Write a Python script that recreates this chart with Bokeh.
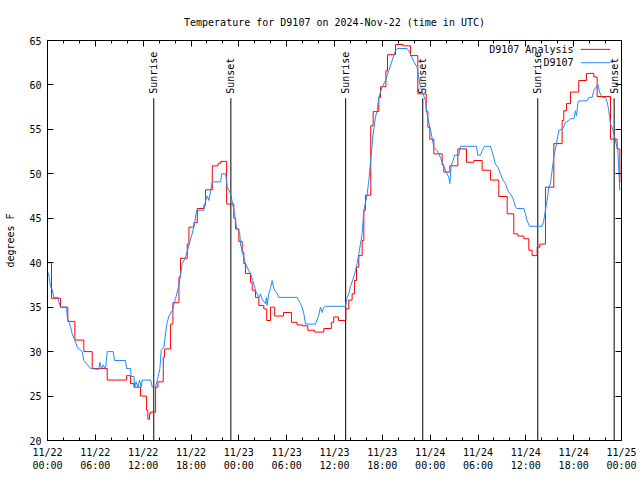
from bokeh.plotting import figure
from bokeh.models import Range1d, FixedTicker, LinearAxis, Label, Arrow, ColumnDataSource, CustomJSTickFormatter
from bokeh.core.properties import value
from bokeh.embed import file_html
from bokeh.resources import INLINE

# ---- data (hours since 2024-11-22 00:00 UTC, degrees F) ----
analysis_hours = [0.0, 0.5, 1.63, 2.55, 3.43, 4.56, 5.61, 7.49, 9.92, 10.42, 10.84, 11.67, 12.43, 12.59,
                  12.8, 12.93, 13.56, 13.85, 14.52, 14.69, 15.44, 15.73, 16.49, 16.69, 17.53, 17.74,
                  18.37, 18.79, 19.62, 19.83, 20.67, 21.4, 21.72, 22.47, 23.37, 23.6, 24.0, 24.42,
                  24.62, 24.83, 25.46, 25.67, 26.09, 26.51, 27.13, 27.5, 27.97, 28.5, 29.6, 30.6,
                  31.3, 32.0, 32.65, 33.5, 34.66, 35.6, 35.9, 36.5, 37.42, 37.79, 38.21, 38.5,
                  38.76, 39.05, 39.47, 39.68, 39.88, 40.55, 40.85, 41.56, 41.77, 42.45, 42.65,
                  43.65, 44.6, 45.53, 46.45, 47.5, 47.71, 47.96, 48.46, 49.5, 49.71, 50.47, 51.47,
                  52.56, 53.48, 54.52, 55.57, 56.61, 57.66, 58.49, 59.0, 59.75, 60.37, 60.79, 61.42,
                  61.75, 62.46, 63.51, 64.55, 64.76, 65.1, 65.6, 66.64, 67.6, 68.53, 68.94, 70.62,
                  71.45, 71.8]
analysis_temp = [40.0, 36.0, 35.0, 33.4, 31.3, 30.0, 28.1, 26.8, 27.3, 26.4, 26.0, 25.0, 23.4, 22.4,
                 23.0, 23.2, 26.0, 26.6, 29.4, 30.3, 33.1, 35.5, 38.4, 40.5, 42.1, 44.0,
                 44.5, 46.1, 46.5, 48.2, 50.9, 51.2, 51.4, 46.6, 45.0, 43.8, 42.4, 41.2,
                 39.9, 38.8, 37.8, 36.9, 36.1, 35.2, 34.8, 33.5, 35.0, 34.0, 34.4, 33.3,
                 33.0, 32.9, 32.4, 32.2, 32.6, 33.3, 33.9, 33.5, 34.8, 35.8, 36.5, 38.0,
                 39.5, 40.8, 42.5, 45.9, 47.6, 55.4, 57.0, 58.6, 59.8, 61.6, 63.4,
                 64.55, 64.4, 63.3, 59.0, 57.0, 55.25, 53.9, 52.25, 51.0, 50.2, 50.9, 52.8,
                 51.3, 51.5, 50.4, 49.3, 47.45, 45.5, 43.25, 43.0, 42.7, 41.4, 40.8, 41.75,
                 42.1, 48.5, 53.4, 56.0, 57.1, 57.9, 59.2, 60.5, 61.3, 60.9, 58.7, 53.9,
                 52.8, 49.0]

obs_hours = [0.0, 0.17, 0.38, 0.59, 0.79, 1.3, 1.42, 1.63, 2.38, 2.47, 2.89, 3.1, 3.51, 3.72, 4.35,
             4.56, 5.4, 6.44, 6.57, 6.78, 6.99, 7.28, 7.49, 8.24, 8.41, 9.79, 9.92, 10.42, 10.5,
             10.84, 10.92, 11.13, 11.34, 11.55, 11.76, 11.88, 12.93, 13.14, 13.56, 13.77, 14.1,
             14.27, 14.6, 14.94, 15.23, 15.65, 16.07, 16.49, 16.9, 17.32, 17.74, 18.16, 18.45,
             18.7, 19.62, 19.83, 20.04, 20.25, 20.46, 20.67, 21.72, 21.84, 22.34, 22.55, 22.97,
             23.39, 23.7, 24.12, 24.2, 24.62, 24.83, 25.25, 25.46, 25.88, 26.09, 26.51, 26.72,
             26.92, 27.34, 27.47, 27.55, 27.76, 27.97, 28.18, 28.39, 28.81, 29.01, 31.31, 31.73,
             31.94, 32.15, 32.36, 33.61, 34.03, 34.24, 34.45, 34.66, 34.87, 37.38, 37.58, 37.79,
             38.0, 38.42, 38.63, 38.84, 39.05, 39.47, 39.68, 40.09, 40.3, 40.64, 40.85, 41.14,
             41.35, 41.56, 41.97, 42.39, 42.81, 43.23, 43.65, 43.94, 45.11, 45.53, 45.95, 46.37,
             46.7, 47.0, 47.41, 47.62, 47.96, 48.25, 48.46, 48.88, 49.3, 49.71, 50.13, 50.34,
             50.47, 50.63, 50.88, 51.05, 51.59, 51.8, 53.81, 53.98, 54.31, 54.52, 54.81, 55.57,
             55.9, 56.19, 56.49, 56.82, 57.16, 57.45, 57.74, 58.07, 58.41, 58.7, 58.91, 59.75,
             59.95, 60.16, 60.46, 62.05, 62.25, 62.46, 62.67, 62.88, 63.09, 63.3, 63.51, 63.84,
             64.14, 64.55, 64.76, 64.97, 65.39, 65.6, 66.02, 66.23, 66.35, 66.52, 66.64, 67.69,
             67.9, 68.32, 68.53, 68.94, 69.03, 69.24, 69.57, 69.99, 70.2, 70.41, 70.62, 70.83,
             71.04, 71.33, 71.54, 71.66, 71.79]
obs_temp = [39.0, 38.6, 37.3, 37.0, 36.1, 36.1, 35.6, 35.0, 35.0, 33.9, 32.8, 32.0, 31.1, 30.5, 30.0,
            29.0, 28.1, 28.0, 28.8, 28.0, 28.5, 28.0, 30.0, 30.0, 29.0, 29.0, 28.1, 28.1, 27.2,
            27.2, 26.0, 26.6, 26.0, 26.8, 26.0, 26.8, 26.8, 26.0, 26.0, 26.8, 28.1,
            30.2, 30.5, 33.0, 34.0, 34.6, 36.0, 37.5, 39.9, 40.6, 42.0, 43.3, 44.4,
            45.9, 45.9, 47.0, 47.5, 47.0, 48.1, 49.1, 49.1, 50.0, 50.0, 48.5, 47.75,
            45.9, 44.0, 43.3, 42.1, 40.6, 39.9, 39.1, 38.8, 37.6, 36.9, 36.1, 36.5,
            35.9, 35.4, 36.1, 35.2, 36.5, 37.1, 38.0, 37.1, 36.5, 36.1, 36.1, 35.4,
            35.0, 34.3, 33.1, 33.1, 34.1, 35.0, 34.4, 35.0, 35.1, 35.1, 36.1, 36.5,
            37.3, 38.4, 39.1, 39.9, 41.0, 43.3, 45.9, 47.6, 49.25, 52.5, 54.5, 56.4,
            57.1, 58.6, 59.75, 60.5, 61.6, 62.75, 63.9, 64.1, 64.1, 63.5, 62.6, 62.0,
            60.1, 59.2, 58.25, 56.75, 55.25, 54.0, 53.0, 52.6, 51.8, 50.8, 50.0, 49.6,
            48.9, 50.9, 51.5, 52.1, 52.1, 53.1, 53.1, 52.1, 52.1, 52.6, 53.1, 53.1,
            52.1, 51.1, 50.75, 50.0, 49.25, 48.9, 48.1, 47.75, 47.2, 46.25, 46.1, 46.1,
            45.5, 44.75, 44.1, 44.1, 44.75, 45.9, 47.0, 48.5, 48.9, 50.4, 51.9, 53.4,
            54.9, 55.0, 55.25, 55.8, 56.0, 56.2, 56.2, 57.1, 56.5, 57.9, 58.2, 58.2,
            58.6, 58.6, 59.4, 59.9, 60.1, 59.2, 58.6, 58.6, 58.1, 57.1, 55.6, 55.25,
            54.5, 53.4, 52.6, 50.4, 48.1]

sun_hours = [13.33, 23.0, 37.4, 47.07, 61.5, 71.08]
sun_labels = ["Sunrise", "Sunset", "Sunrise", "Sunset", "Sunrise", "Sunset"]

tick_hours = [0, 6, 12, 18, 24, 30, 36, 42, 48, 54, 60, 66, 72]
tick_dates = ["11/22", "11/22", "11/22", "11/22", "11/23", "11/23", "11/23", "11/23",
              "11/24", "11/24", "11/24", "11/24", "11/25"]
tick_times = ["00:00", "06:00", "12:00", "18:00", "00:00", "06:00", "12:00", "18:00",
              "00:00", "06:00", "12:00", "18:00", "00:00"]
minor_tick_hours = list(range(0, 73, 2))
y_ticks = [20, 25, 30, 35, 40, 45, 50, 55, 60, 65]

series_names = ["D9107 Analysis", "D9107"]
series_colors = ["#ff0000", "#1e8cff"]

FONT = "DejaVu Sans Mono"
FS = "10px"

p = figure(width=640, height=480, x_range=Range1d(0, 72), y_range=Range1d(20, 65),
           x_axis_type=None, y_axis_type=None,
           output_backend="svg", toolbar_location=None,
           title="Temperature for D9107 on 2024-Nov-22 (time in UTC)",
           min_border_left=47, min_border_right=19, min_border_top=40, min_border_bottom=40)
p.xgrid.visible = False
p.ygrid.visible = False
p.outline_line_color = "black"
p.background_fill_color = "white"
p.border_fill_color = "white"

p.title.align = "center"
p.title.text_font = FONT
p.title.text_font_size = FS
p.title.text_font_style = "normal"
p.title.text_color = "black"
p.title.standoff = 25

xt = FixedTicker(ticks=tick_hours, minor_ticks=minor_tick_hours)
yt = FixedTicker(ticks=y_ticks, minor_ticks=[])

bottom = LinearAxis(ticker=xt)
top = LinearAxis(ticker=xt)
left = LinearAxis(ticker=yt)
right = LinearAxis(ticker=yt)
p.add_layout(bottom, "below")
p.add_layout(left, "left")
p.add_layout(top, "above")
p.add_layout(right, "right")

for ax in [bottom, left, top, right]:
    ax.axis_line_color = "black"
    ax.major_tick_in = 6
    ax.major_tick_out = 0
    ax.minor_tick_in = 3
    ax.minor_tick_out = 0
    ax.major_tick_line_color = "black"
    ax.minor_tick_line_color = "black" if ax in (bottom, top) else None
    ax.major_label_text_font = FONT
    ax.major_label_text_font_size = FS
    ax.major_label_text_color = "black"

for ax in [top, right]:
    ax.formatter = CustomJSTickFormatter(code="return ''")
    ax.major_label_standoff = 0

bottom.major_label_overrides = {h: d + "\n" + t for h, d, t in zip(tick_hours, tick_dates, tick_times)}
bottom.major_label_standoff = 6
left.major_label_standoff = 6
left.axis_label = "degrees F"
left.axis_label_text_font = FONT
left.axis_label_text_font_size = FS
left.axis_label_text_font_style = "normal"
left.axis_label_text_color = "black"
left.axis_label_standoff = 10

# sunrise / sunset markers
sun_src = ColumnDataSource(dict(x=sun_hours, label=sun_labels,
                                y0=[20] * len(sun_hours), y1=[58.5] * len(sun_hours),
                                yt=[59.0] * len(sun_hours)))
p.segment(x0="x", y0="y0", x1="x", y1="y1", source=sun_src, line_color="black", line_width=1)
p.text(x="x", y="yt", text="label", source=sun_src, angle=1.5708, text_align="left",
       text_baseline="middle", text_font=value(FONT), text_font_size=FS, text_color="black")

# series
p.step(analysis_hours, analysis_temp, mode="after", line_color=series_colors[0], line_width=1)
p.line(obs_hours, obs_temp, line_color=series_colors[1], line_width=1)

# legend (gnuplot style: label then sample)
leg_y = [64.0, 62.5]
for name, col, yy in zip(series_names, series_colors, leg_y):
    p.add_layout(Label(x=65.98, y=yy, text=name, text_align="right", text_baseline="middle",
                       text_font=FONT, text_font_size=FS, text_color="black"))
    p.add_layout(Arrow(end=None, x_start=66.9, y_start=yy, x_end=70.6, y_end=yy,
                       line_color=col, line_width=1))

open("out.html", "w").write(file_html(p, INLINE))
